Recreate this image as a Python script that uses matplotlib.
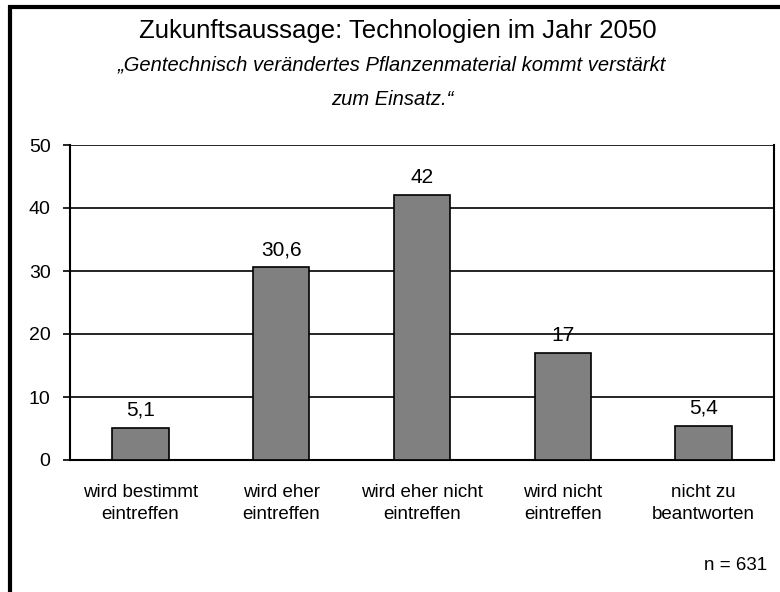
import matplotlib.pyplot as plt
from matplotlib.patches import Rectangle

plt.rcParams['font.family'] = ['Liberation Sans', 'DejaVu Sans']

categories = ["wird bestimmt\neintreffen", "wird eher\neintreffen", "wird eher nicht\neintreffen",
              "wird nicht\neintreffen", "nicht zu\nbeantworten"]
values = [5.1, 30.6, 42, 17, 5.4]
value_labels = ["5,1", "30,6", "42", "17", "5,4"]
yticks = [0, 10, 20, 30, 40, 50]

fig = plt.figure(figsize=(7.8, 5.92), dpi=100)
ax = fig.add_axes([70/780, 1 - 460/592, (774 - 70)/780, (460 - 145)/592])

x = range(len(values))
ax.bar(x, values, width=0.4, color="#808080", edgecolor="black", linewidth=1.2, zorder=3)
for xi, v, lab in zip(x, values, value_labels):
    ax.text(xi, v + 1.3, lab, ha="center", va="bottom", fontsize=15)

ax.set_xlim(-0.5, len(values) - 0.5)
ax.set_ylim(0, 50)
ax.set_yticks(yticks)
ax.set_yticklabels([str(t) for t in yticks], fontsize=14)
ax.tick_params(axis="y", length=5, width=1.2, direction="out", pad=9)
ax.set_xticks(list(x))
ax.set_xticklabels(categories, fontsize=13.5, linespacing=1.4)
ax.tick_params(axis="x", length=0, pad=17)
ax.yaxis.grid(True, color="black", linewidth=1.2, zorder=0)
for s in ["left", "bottom", "right"]:
    ax.spines[s].set_linewidth(1.5)
ax.spines["top"].set_visible(False)

fig.text(398/780, 1 - 31/592, "Zukunftsaussage: Technologien im Jahr 2050", ha="center", va="center", fontsize=18.5)
fig.text(392/780, 1 - 65/592, "\u201eGentechnisch verändertes Pflanzenmaterial kommt verstärkt",
         ha="center", va="center", fontsize=14.5, style="italic")
fig.text(392/780, 1 - 100/592, "zum Einsatz.\u201c", ha="center", va="center", fontsize=14.5, style="italic")
fig.text(767/780, 1 - 565/592, "n = 631", ha="right", va="center", fontsize=13.5)

fig.patches.append(Rectangle((9.5/780, -0.05), 1.1, 1 - 7/592 + 0.05, transform=fig.transFigure,
                             fill=False, edgecolor="black", linewidth=3))

fig.savefig("out.png", dpi=100)
